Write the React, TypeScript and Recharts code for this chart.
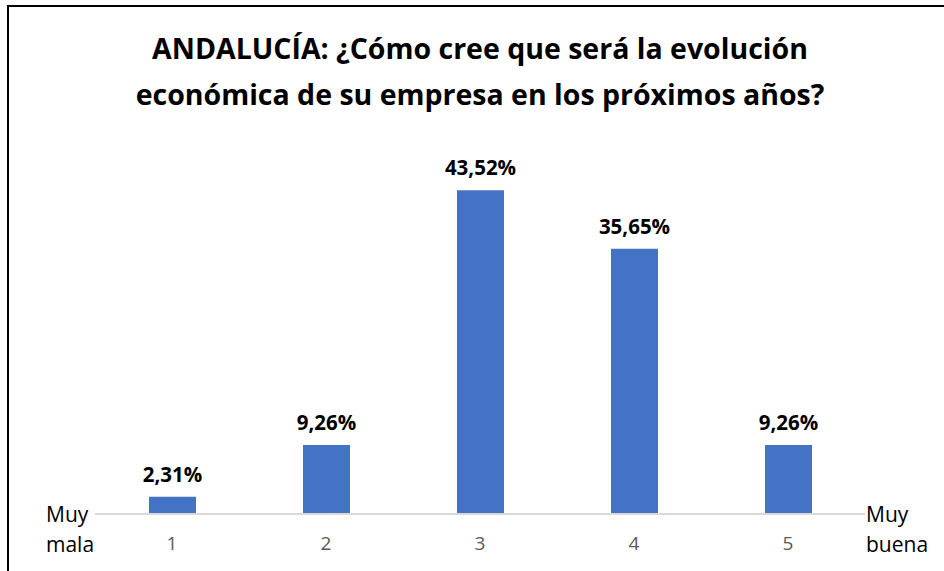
import { BarChart, Bar, XAxis, YAxis, LabelList } from 'recharts';

const categorias = ['1', '2', '3', '4', '5'];
const porcentajes = [2.31, 9.26, 43.52, 35.65, 9.26];

const TITULO = ['ANDALUCÍA: ¿Cómo cree que será la evolución', 'económica de su empresa en los próximos años?'];

const FONT = '"Open Sans", "Noto Sans", sans-serif';

const data = categorias.map((cat, i) => ({ cat, valor: porcentajes[i] }));

const fmt = (v: any) => `${Number(v).toFixed(2).replace('.', ',')}%`;

export default function App() {
  return (
    <div
      style={{
        position: 'fixed',
        left: 0,
        top: 0,
        width: 944,
        height: 571,
        overflow: 'hidden',
        background: '#fff',
        fontFamily: FONT,
      }}
    >
      {/* marco superior e izquierdo */}
      <div
        style={{
          position: 'absolute',
          left: 7,
          top: 5,
          width: 1000,
          height: 1000,
          borderLeft: '2px solid #000',
          borderTop: '2px solid #000',
        }}
      />
      <div
        style={{
          position: 'absolute',
          left: 0,
          top: 25,
          width: 960,
          textAlign: 'center',
          fontWeight: 700,
          fontSize: 28.5,
          lineHeight: '46px',
          color: '#000',
        }}
      >
        {TITULO.map((t) => (
          <div key={t}>{t}</div>
        ))}
      </div>

      <div style={{ position: 'absolute', left: 0, top: 0 }}>
        <BarChart
          width={944}
          height={571}
          data={data}
          margin={{ top: 142, right: 79, bottom: 7, left: 95 }}
        >
          <YAxis hide domain={[0, 50]} />
          <XAxis
            dataKey="cat"
            height={50}
            axisLine={{ stroke: '#d9d9d9', strokeWidth: 2 }}
            tickLine={false}
            tick={{ fill: '#595959', fontSize: 19, fontFamily: FONT, dy: 15 }}
          />
          <Bar dataKey="valor" fill="#4472C4" barSize={47} isAnimationActive={false}>
            <LabelList
              dataKey="valor"
              position="top"
              offset={15}
              formatter={fmt}
              style={{ fill: '#000', fontSize: 20.5, fontWeight: 700, fontFamily: FONT }}
            />
          </Bar>
        </BarChart>
      </div>

      <div style={{ position: 'absolute', left: 46, top: 499, fontSize: 21, lineHeight: '30px', color: '#000' }}>
        Muy
        <br />
        mala
      </div>
      <div style={{ position: 'absolute', left: 866, top: 499, fontSize: 21, lineHeight: '30px', color: '#000' }}>
        Muy
        <br />
        buena
      </div>
    </div>
  );
}
